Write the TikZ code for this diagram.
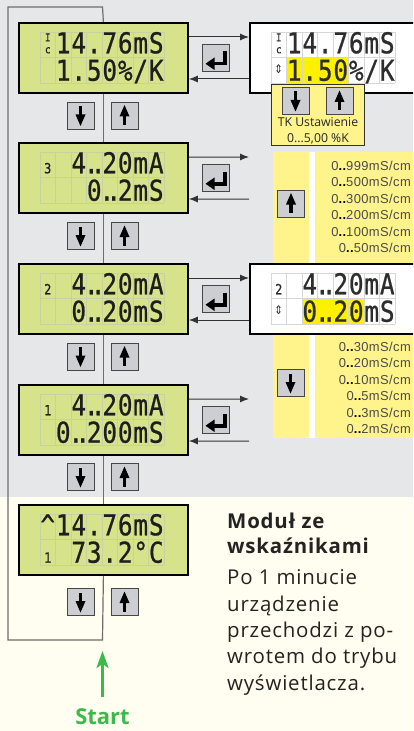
\documentclass[tikz,border=0pt]{standalone}
\usepackage{fontspec}
\setmainfont{Open Sans}
\newfontfamily\notefont[LetterSpace=4]{Open Sans}
\newfontfamily\tagfont{Open Sans}
\newfontfamily\rangefont[LetterSpace=3]{Liberation Sans}
\newfontfamily\lcdfont[FakeBold=0.8]{DejaVu Sans Mono}
\newfontfamily\symfont{DejaVu Sans}
\usetikzlibrary{arrows.meta}

\definecolor{topbg}{RGB}{230,231,233}
\definecolor{lowbg}{RGB}{255,254,240}
\definecolor{lcdfill}{RGB}{214,227,138}
\definecolor{lcdgrid}{RGB}{198,210,160}
\definecolor{panelgrid}{RGB}{215,215,215}
\definecolor{keyfill}{RGB}{205,206,210}
\definecolor{keyline}{RGB}{70,70,70}
\definecolor{wirecol}{RGB}{50,50,50}
\definecolor{loopcol}{RGB}{110,110,110}
\definecolor{pale}{RGB}{255,243,140}
\definecolor{hilite}{RGB}{255,240,0}
\definecolor{go}{RGB}{60,185,75}
\definecolor{ink}{RGB}{30,30,30}
\definecolor{panelink}{RGB}{45,45,45}
\definecolor{rangeink}{RGB}{75,75,75}
\definecolor{noteink}{RGB}{35,35,35}

% two dots packed into one character cell
\newcommand\dd{\hbox to 0.6em{\kern-0.12em.\kern-0.32em.\hss}}
% small channel digit
\newcommand\chn[1]{{\fontsize{14}{14}\selectfont #1}}
% cell sensor symbol
\newcommand\icoTC{{\fontsize{11}{11}\selectfont\vbox{\hbox{I}\kern1bp\hbox{c}}}}
% edit marker
\newcommand\icoUD{{\symfont\fontsize{12}{12}\selectfont\raisebox{7bp}{⇕}}}

% 8x2 character grid, #1/#2 = top-left corner, #3 = colour
\newcommand\lcdgrid[3]{%
  \foreach \i in {0,...,8} \draw[#3, line width=0.6bp] ({#1+15.5*\i},{#2}) -- ++(0,51.4);
  \foreach \j in {0,1,2} \draw[#3, line width=0.6bp] ({#1},{#2+25.7*\j}) -- ++(124,0);
}
% one row of characters: name prefix, grid x, baseline, colour, cells
\newcommand\lcdline[5]{%
  \foreach \c [count=\i] in {#5}
    \node[lcdchar, text=#4] (#1\i) at ({#2+15.5*\i-7.75},{#3}) {\scalebox{0.85}[1]{\c}};
}

\tikzset{
  lcd/.style={draw=black, line width=1.8bp, fill=lcdfill, minimum width=169bp,
    minimum height=70bp, anchor=north west, inner sep=0},
  panel/.style={lcd, fill=white, minimum width=200bp},
  btn/.style={draw=keyline, line width=0.9bp, fill=keyfill, minimum size=27bp, inner sep=0},
  wire/.style={draw=wirecol, line width=1bp},
  into/.style={-{Latex[length=9bp,width=7bp]}},
  loopline/.style={draw=loopcol, line width=1.2bp},
  lcdchar/.style={inner sep=0, anchor=base, font=\lcdfont\fontsize{28.8}{28.8}\selectfont},
  rangeline/.style={inner sep=0, anchor=base east, text=rangeink,
    font=\rangefont\fontsize{13}{13}\selectfont},
  tkbox/.style={draw=black!80, line width=0.8bp, fill=pale, anchor=north west,
    minimum width=93bp, minimum height=61bp, inner sep=0},
  tag/.style={inner sep=0, anchor=base, text=black!85, font=\tagfont\fontsize{12.3}{12.3}\selectfont},
  note/.style={inner sep=0, anchor=base west, text=noteink, font=\notefont\fontsize{20.5}{20.5}\selectfont},
  notehead/.style={note, font=\notefont\bfseries\fontsize{20.5}{20.5}\selectfont},
  pics/downglyph/.style={code={
    \fill[black] (-1.7,-9.5) rectangle (1.7,0);
    \fill[black] (-5,-1) -- (5,-1) -- (0,10.5) -- cycle;}},
  pics/upglyph/.style={code={
    \fill[black] (-1.7,9.5) rectangle (1.7,0);
    \fill[black] (-5,1) -- (5,1) -- (0,-10.5) -- cycle;}},
  pics/enterglyph/.style={code={
    \fill[black] (7.5,-6) rectangle (11,8);
    \fill[black] (-2,4.5) rectangle (11,8);
    \fill[black] (-10,6.25) -- (-1,0) -- (-1,12.5) -- cycle;}},
}

\newcommand\keyat[4]{% name, x, y, glyph
  \node[btn] (#1) at (#2,#3) {};
  \pic at (#1.center) {#4};
}

\begin{document}
\begin{tikzpicture}[x=1bp,y=-1bp]
\useasboundingbox (0,0) rectangle (413,731);
\clip (0,0) rectangle (413,731);

% backgrounds
\fill[topbg] (0,0) rectangle (413,497);
\fill[lowbg] (0,497) rectangle (413,731);

% range strips
\fill[pale] (273,152) rectangle (309,438);
\fill[white] (309,152) rectangle (315,438);
\fill[pale] (315,152) rectangle (413,438);

% displays
\node[lcd] (d1) at (18,22) {};
\node[lcd] (d2) at (18,142) {};
\node[lcd] (d3) at (18,263) {};
\node[lcd] (d4) at (18,384) {};
\node[lcd] (d5) at (18,504) {};
\node[panel] (p1) at (249,22) {};
\node[panel] (p2) at (249,263) {};

% scrolling loop
\coordinate (loopTL) at (8,7);
\coordinate (loopTR) at (102.5,7);
\coordinate (loopBL) at (8,640);
\coordinate (loopBR) at (102.5,640);
\draw[loopline] (d1.north) -- (loopTR) -- (loopTL) -- (loopBL) -- (loopBR) -- (d5.south);
\draw[loopline] (d1.south) -- (d2.north);
\draw[loopline] (d2.south) -- (d3.north);
\draw[loopline] (d3.south) -- (d4.north);
\draw[loopline] (d4.south) -- (d5.north);

% enter links
\coordinate (in2) at (249,157);
\coordinate (out2) at (249,199);
\coordinate (in4) at (249,399);
\coordinate (out4) at (249,441);
\draw[wire,into] ([yshift=-15bp]d1.north east) -- ([yshift=-15bp]p1.north west);
\draw[wire,into] ([yshift=-57bp]p1.north west) -- ([yshift=-57bp]d1.north east);
\draw[wire,into] ([yshift=-15bp]d2.north east) -- (in2);
\draw[wire,into] (out2) -- ([yshift=-57bp]d2.north east);
\draw[wire,into] ([yshift=-15bp]d3.north east) -- ([yshift=-15bp]p2.north west);
\draw[wire,into] ([yshift=-57bp]p2.north west) -- ([yshift=-57bp]d3.north east);
\draw[wire,into] ([yshift=-15bp]d4.north east) -- (in4);
\draw[wire,into] (out4) -- ([yshift=-57bp]d4.north east);

% highlighted edit fields
\fill[hilite] (286.5,57.7) rectangle (348.5,83.4);
\fill[hilite] (302,298.7) rectangle (364,324.4);

% character grids
\foreach \T in {22,142,263,384,504} { \lcdgrid{40}{\T+10}{lcdgrid} }
\lcdgrid{271}{32}{panelgrid}
\lcdgrid{271}{273}{panelgrid}

% display texts
\lcdline{d1a}{40}{53.3}{ink}{\icoTC,1,4,{.},7,6,m,S}
\lcdline{d1b}{40}{80.7}{ink}{{},1,{.},5,0,\%,/,K}
\lcdline{d2a}{40}{173.3}{ink}{\chn{3},{},4,\dd,2,0,m,A}
\lcdline{d2b}{40}{200.7}{ink}{{},{},{},0,\dd,2,m,S}
\lcdline{d3a}{40}{294.3}{ink}{\chn{2},{},4,\dd,2,0,m,A}
\lcdline{d3b}{40}{321.7}{ink}{{},{},0,\dd,2,0,m,S}
\lcdline{d4a}{40}{415.3}{ink}{\chn{1},{},4,\dd,2,0,m,A}
\lcdline{d4b}{40}{442.7}{ink}{{},0,\dd,2,0,0,m,S}
\lcdline{d5a}{40}{535.3}{ink}{\textasciicircum,1,4,{.},7,6,m,S}
\lcdline{d5b}{40}{562.7}{ink}{\chn{1},{},7,3,{.},2,°,C}
\lcdline{p1a}{271}{53.3}{panelink}{\icoTC,1,4,{.},7,6,m,S}
\lcdline{p1b}{271}{80.7}{panelink}{\icoUD,1,{.},5,0,\%,/,K}
\lcdline{p2a}{271}{294.3}{panelink}{\chn{2},{},4,\dd,2,0,m,A}
\lcdline{p2b}{271}{321.7}{panelink}{\icoUD,{},0,\dd,2,0,m,S}

% temperature coefficient setting
\node[tkbox] (tk) at (271,84) {};
\keyat{tkdown}{295.5}{101}{downglyph}
\keyat{tkup}{339.5}{101}{upglyph}
\node[tag] (tkname) at (318,127) {TK Ustawienie};
\node[tag] (tkrange) at (318,143) {0...5,00 \%K};

% step keys
\foreach \y [count=\k] in {115.5,236,356.5,477,602} {
  \keyat{dn\k}{80.5}{\y}{downglyph}
  \keyat{up\k}{124.5}{\y}{upglyph}
}
\foreach \y [count=\k] in {57.5,177.5,298.5,419.5} {
  \keyat{ent\k}{215.5}{\y}{enterglyph}
}
\keyat{rngup}{291}{203.5}{upglyph}
\keyat{rngdn}{290.5}{383}{downglyph}

% measuring ranges
\foreach \v [count=\k] in {999,500,300,200,100,50}
  \node[rangeline] (hi\k) at (411,{170.5+16.4*(\k-1)}) {0{\color{black}\bfseries..}\v mS/cm};
\foreach \v [count=\k] in {30,20,10,5,3,2}
  \node[rangeline] (lo\k) at (411,{351+16.5*(\k-1)}) {0{\color{black}\bfseries..}\v mS/cm};

% note
\node[notehead] (n1) at (227,528) {Moduł ze};
\node[notehead] (n2) at (227,553) {wskaźnikami};
\node[note] (n3) at (227,584) {Po 1 minucie};
\node[note] (n4) at (227,611) {urządzenie};
\node[note] (n5) at (227,637) {przechodzi z po-};
\node[note] (n6) at (227,663.5) {wrotem do trybu};
\node[note] (n7) at (227,690) {wyświetlacza.};

% start
\node[inner sep=0, anchor=base, text=go, font=\bfseries\fontsize{22}{22}\selectfont] (start) at (102.5,724) {Start};
\coordinate (starttip) at (102.5,651);
\draw[go, line width=2.6bp, -{Stealth[length=17bp,width=12bp,inset=4bp]}]
  ([yshift=11bp]start.north) -- (starttip);
\end{tikzpicture}
\end{document}
